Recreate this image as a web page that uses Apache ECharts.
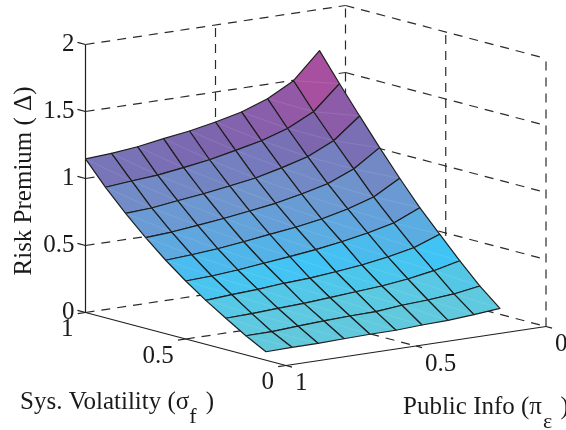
<!DOCTYPE html>
<html>
<head>
<meta charset="utf-8">
<style>html,body{margin:0;padding:0;background:#fff}#c{width:566px;height:430px}</style>
<script src="https://cdn.jsdelivr.net/npm/echarts@6/dist/echarts.min.js"></script>
</head>
<body>
<div id="c"></div>
<script>
// ---------- data ----------
var piValues = [1, 0.9, 0.8, 0.7, 0.6, 0.5, 0.4, 0.3, 0.2, 0.1];
var sigmaValues = [1, 0.9, 0.8, 0.7, 0.6, 0.5, 0.4, 0.3, 0.2, 0.1];
var premiumSigma10 = [1.146, 1.159, 1.179, 1.210, 1.238, 1.276, 1.322, 1.392, 1.497, 1.692];
var premiumSigma09 = [0.974, 0.992, 1.007, 1.033, 1.063, 1.104, 1.147, 1.209, 1.305, 1.485];
var premiumSigma08 = [0.819, 0.830, 0.855, 0.878, 0.907, 0.937, 0.984, 1.038, 1.128, 1.284];
var premiumSigma07 = [0.678, 0.690, 0.711, 0.733, 0.760, 0.788, 0.828, 0.876, 0.957, 1.087];
var premiumSigma06 = [0.548, 0.560, 0.576, 0.599, 0.625, 0.649, 0.681, 0.727, 0.787, 0.898];
var premiumSigma05 = [0.433, 0.441, 0.457, 0.478, 0.498, 0.521, 0.551, 0.587, 0.633, 0.718];
var premiumSigma04 = [0.328, 0.341, 0.352, 0.368, 0.378, 0.396, 0.417, 0.448, 0.488, 0.559];
var premiumSigma03 = [0.234, 0.239, 0.250, 0.258, 0.272, 0.286, 0.300, 0.323, 0.356, 0.401];
var premiumSigma02 = [0.143, 0.144, 0.157, 0.166, 0.174, 0.177, 0.196, 0.206, 0.222, 0.252];
var premiumSigma01 = [0.063, 0.067, 0.068, 0.073, 0.077, 0.078, 0.088, 0.094, 0.107, 0.125];
var premiumRows = [premiumSigma10, premiumSigma09, premiumSigma08, premiumSigma07, premiumSigma06,
                   premiumSigma05, premiumSigma04, premiumSigma03, premiumSigma02, premiumSigma01];
var zTicks = [0, 0.5, 1, 1.5, 2];
var zTickLabels = ['0', '0.5', '1', '1.5', '2'];
var sigmaTicks = [1, 0.5, 0];
var sigmaTickLabels = ['1', '0.5', '0'];
var piTicks = [1, 0.5, 0];
var piTickLabels = ['1', '0.5', '0'];

// ---------- view: oblique projection of (pi, sigma, z) to screen units ----------
var view = { ox: 85.5, oy: 312.5, piX: 260, piY: -39, sigX: 200.5, sigY: 53, zY: 134 };
function project(pi, sigma, z) {
  var a = 1 - pi, b = 1 - sigma;
  return [view.ox + a * view.piX + b * view.sigX,
          view.oy + a * view.piY + b * view.sigY - z * view.zY];
}

var colorStops = [
  [0.00, '#66c8d8'], [0.25, '#5cc9e2'], [0.36, '#4cc6ec'], [0.45, '#40c4f6'], [0.55, '#55b2e6'],
  [0.70, '#669fd8'], [0.85, '#7093cc'], [1.00, '#7480bf'], [1.15, '#7c68b0'], [1.30, '#8c5ca9'], [1.50, '#a8509f']
];
function colorFor(z) {
  for (var k = 1; k < colorStops.length; k++) {
    if (z <= colorStops[k][0]) {
      var t = (z - colorStops[k-1][0]) / (colorStops[k][0] - colorStops[k-1][0]);
      return echarts.color.lerp(Math.max(0, t), [colorStops[k-1][1], colorStops[k][1]]);
    }
  }
  return colorStops[colorStops.length-1][1];
}

// ---------- mark lists built from the data ----------
var dashedLines = [];
zTicks.forEach(function (z) {
  dashedLines.push([1, 1, z, 0, 1, z]);   // sigma = 1 wall
  dashedLines.push([0, 1, z, 0, 0, z]);   // pi = 0 wall
});
[0.5, 0].forEach(function (p) { dashedLines.push([p, 1, 0, p, 1, 2]); });
[0.5, 0].forEach(function (s) { dashedLines.push([0, s, 0, 0, s, 2]); });
dashedLines.push([0.5, 1, 0, 0.5, 0, 0]);
dashedLines.push([1, 0.5, 0, 0, 0.5, 0]);

var solidLines = [
  [1, 1, 0, 1, 1, 2],
  [1, 1, 0, 1, 0, 0],
  [1, 0, 0, 0, 0, 0]
];
zTicks.forEach(function (z) { solidLines.push([1, 1, z, 1, 1.04, z]); });
sigmaTicks.forEach(function (s) { solidLines.push([1, s, 0, 1.03, s, 0]); });
piTicks.forEach(function (p) { solidLines.push([p, 0, 0, p, -0.03, 0]); });

var surfaceCells = [];
for (var j = 0; j < sigmaValues.length - 1; j++) {
  for (var i = piValues.length - 2; i >= 0; i--) {
    surfaceCells.push([i, j]);
  }
}

var tickTexts = [];
zTicks.forEach(function (z, k) { tickTexts.push([1, 1, z, zTickLabels[k], -11, 0, 'right']); });
sigmaTicks.forEach(function (s, k) { tickTexts.push([1, s, 0, sigmaTickLabels[k], -12, 17, 'right']); });
piTicks.forEach(function (p, k) { tickTexts.push([p, 0, 0, piTickLabels[k], 9, 18, 'left']); });

function lineRenderer(style) {
  return function (params, api) {
    var d = lines(params.seriesIndex)[params.dataIndex];
    var a = api.coord(project(d[0], d[1], d[2]));
    var b = api.coord(project(d[3], d[4], d[5]));
    return { type: 'line', shape: { x1: a[0], y1: a[1], x2: b[0], y2: b[1] }, style: style, silent: true };
  };
}
function lines(idx) { return idx === 0 ? dashedLines : solidLines; }

function renderCell(params, api) {
  var c = surfaceCells[params.dataIndex], i = c[0], j = c[1];
  var corners = [[i, j], [i + 1, j], [i + 1, j + 1], [i, j + 1]];
  var sum = 0;
  var pts = corners.map(function (q) {
    var z = premiumRows[q[1]][q[0]];
    sum += z;
    return api.coord(project(piValues[q[0]], sigmaValues[q[1]], z));
  });
  return {
    type: 'group',
    silent: true,
    children: [
      { type: 'polygon', shape: { points: pts },
        style: { fill: colorFor(sum / 4), stroke: '#1e1e1e', lineWidth: 1.2, lineJoin: 'round' } },
      { type: 'line', shape: { x1: pts[0][0], y1: pts[0][1], x2: pts[2][0], y2: pts[2][1] },
        style: { stroke: 'rgba(255,255,255,0.15)', lineWidth: 0.7 } }
    ]
  };
}
function renderTick(params, api) {
  var t = tickTexts[params.dataIndex];
  var p = api.coord(project(t[0], t[1], t[2]));
  return {
    type: 'text', silent: true,
    x: p[0] + t[4], y: p[1] + t[5],
    style: { text: t[3], textAlign: t[6], textVerticalAlign: 'middle',
             font: '25px "Liberation Serif"', fill: '#1a1a1a' }
  };
}

var chart = echarts.init(document.getElementById('c'), null, { renderer: 'canvas' });
var serif = 'Liberation Serif';
var titleSize = 25;
chart.setOption({
  animation: false,
  backgroundColor: '#fff',
  grid: { left: 0, right: 0, top: 0, bottom: 0 },
  xAxis: { type: 'value', min: 0, max: 566, show: false },
  yAxis: { type: 'value', min: 0, max: 430, inverse: true, show: false },
  series: [
    { type: 'custom', coordinateSystem: 'cartesian2d', clip: false, data: dashedLines.map(function (d, k) { return [k]; }),
      renderItem: lineRenderer({ stroke: '#2a2a2a', lineWidth: 1.2, lineDash: [9, 7] }) },
    { type: 'custom', coordinateSystem: 'cartesian2d', clip: false, data: solidLines.map(function (d, k) { return [k]; }),
      renderItem: lineRenderer({ stroke: '#1e1e1e', lineWidth: 1.2 }) },
    { type: 'custom', coordinateSystem: 'cartesian2d', clip: false, data: surfaceCells.map(function (d, k) { return [k]; }),
      renderItem: renderCell },
    { type: 'custom', coordinateSystem: 'cartesian2d', clip: false, data: tickTexts.map(function (d, k) { return [k]; }),
      renderItem: renderTick }
  ],
  graphic: [
    { type: 'text', silent: true, x: 24, y: 181, rotation: Math.PI / 2,
      style: { text: 'Risk Premium ( \u0394)', textAlign: 'center', textVerticalAlign: 'middle',
               fontFamily: serif, fontSize: titleSize, fill: '#1a1a1a' } },
    { type: 'text', silent: true, x: 20, y: 402,
      style: { text: '{m|Sys. Volatility (\u03c3}{s|f}{m| )}', textVerticalAlign: 'middle', textAlign: 'left',
               rich: { m: { fontFamily: serif, fontSize: titleSize, fill: '#1a1a1a' },
                       s: { fontFamily: serif, fontSize: 22, fill: '#1a1a1a', padding: [30, 3, 0, 0] } } } },
    { type: 'text', silent: true, x: 403, y: 407,
      style: { text: '{m|Public Info (\u03c0}{s|\u03b5}{m| )}', textVerticalAlign: 'middle', textAlign: 'left',
               rich: { m: { fontFamily: serif, fontSize: titleSize, fill: '#1a1a1a' },
                       s: { fontFamily: serif, fontSize: 22, fill: '#1a1a1a', padding: [30, 2, 0, 1] } } } }
  ]
});
</script>
</body>
</html>
